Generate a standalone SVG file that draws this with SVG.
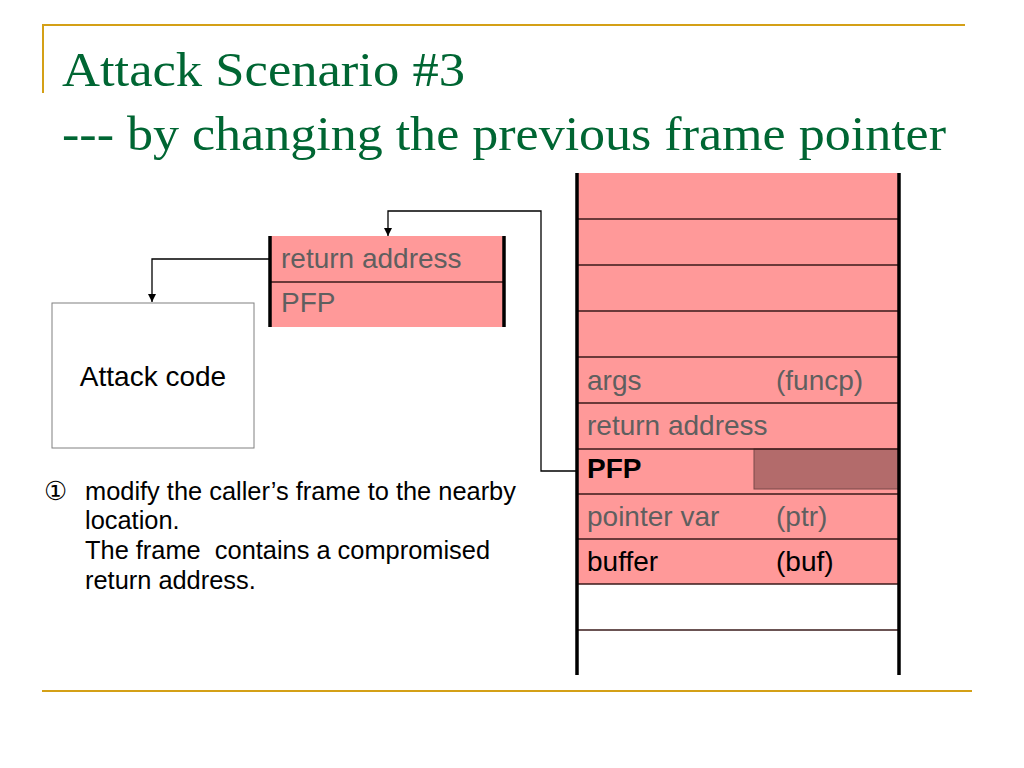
<svg xmlns="http://www.w3.org/2000/svg" width="1024" height="768" viewBox="0 0 1024 768">
<style>
.gold{stroke:#D4A017;stroke-width:2;fill:none}
.title{font-family:"Liberation Serif",serif;font-size:48px;fill:#006633}
.cell{fill:#FF9999}
.hl{stroke:#3a1a1a;stroke-width:1.5}
.vl{stroke:#000;stroke-width:3.5}
.t{font-family:"Liberation Sans",Arial,sans-serif;font-size:28px}
.g{fill:#5f5f5f}
.k{fill:#000}
.b{font-weight:bold}
.note{font-family:"Liberation Sans",Arial,sans-serif;font-size:25.4px;fill:#000}
.conn{stroke:#000;stroke-width:1.3;fill:none}
</style>
<defs>
<marker id="ah" viewBox="0 0 10 10" refX="10" refY="5" markerWidth="8" markerHeight="8" markerUnits="userSpaceOnUse" orient="auto">
<path d="M0,0 L10,5 L0,10 z" fill="#000"/>
</marker>
</defs>
<rect width="1024" height="768" fill="#fff"/>
<g id="frame-lines">
<line class="gold" x1="42" y1="25" x2="965" y2="25"/>
<line class="gold" x1="43" y1="25" x2="43" y2="93"/>
<line class="gold" x1="42" y1="691" x2="972" y2="691"/>
</g>
<g id="title">
<text class="title" x="62" y="86" textLength="403" lengthAdjust="spacingAndGlyphs">Attack Scenario #3</text>
<text class="title" x="62" y="150" textLength="884" lengthAdjust="spacingAndGlyphs">--- by changing the previous frame pointer</text>
</g>
<g id="stack">
<rect class="cell" x="577" y="173" width="322" height="411"/>
<rect x="754" y="449" width="145" height="40" fill="#B36B6B" stroke="#7a4a4a" stroke-width="1"/>
<line class="hl" x1="577" y1="219" x2="899" y2="219"/>
<line class="hl" x1="577" y1="265" x2="899" y2="265"/>
<line class="hl" x1="577" y1="311" x2="899" y2="311"/>
<line class="hl" x1="577" y1="357" x2="899" y2="357"/>
<line class="hl" x1="577" y1="403" x2="899" y2="403"/>
<line class="hl" x1="577" y1="449" x2="899" y2="449"/>
<line class="hl" x1="577" y1="494" x2="899" y2="494"/>
<line class="hl" x1="577" y1="539" x2="899" y2="539"/>
<line class="hl" x1="577" y1="584" x2="899" y2="584"/>
<line class="hl" x1="577" y1="630" x2="899" y2="630"/>
<line class="vl" x1="577" y1="173" x2="577" y2="675"/>
<line class="vl" x1="899" y1="173" x2="899" y2="675"/>
<text class="t g" x="587" y="390">args</text>
<text class="t g" x="776" y="390">(funcp)</text>
<text class="t g" x="587" y="435">return address</text>
<text class="t k b" x="587" y="478">PFP</text>
<text class="t g" x="587" y="526">pointer var</text>
<text class="t g" x="776" y="526">(ptr)</text>
<text class="t k" x="587" y="571">buffer</text>
<text class="t k" x="776" y="571">(buf)</text>
</g>
<g id="caller-frame">
<rect class="cell" x="270" y="236" width="234" height="91"/>
<line class="hl" x1="270" y1="282" x2="504" y2="282"/>
<line class="vl" x1="270" y1="236" x2="270" y2="327"/>
<line class="vl" x1="504" y1="236" x2="504" y2="327"/>
<text class="t g" x="281" y="268">return address</text>
<text class="t g" x="281" y="312">PFP</text>
</g>
<g id="attack-code">
<rect x="52" y="303" width="202" height="145" fill="#fff" stroke="#808080" stroke-width="1"/>
<text class="t k" x="153" y="386" text-anchor="middle">Attack code</text>
</g>
<g id="connectors">
<polyline class="conn" points="270,259 152,259 152,302" marker-end="url(#ah)"/>
<polyline class="conn" points="577,471 541,471 541,211 388,211 388,236" marker-end="url(#ah)"/>
</g>
<g id="note">
<text class="note" x="44" y="500" style="font-family:'DejaVu Sans',sans-serif;font-size:26px;font-weight:normal">①</text>
<text class="note" x="85" y="500">modify the caller’s frame to the nearby</text>
<text class="note" x="85" y="529">location.</text>
<text class="note" x="85" y="559" xml:space="preserve">The frame  contains a compromised</text>
<text class="note" x="85" y="589">return address.</text>
</g>
</svg>
